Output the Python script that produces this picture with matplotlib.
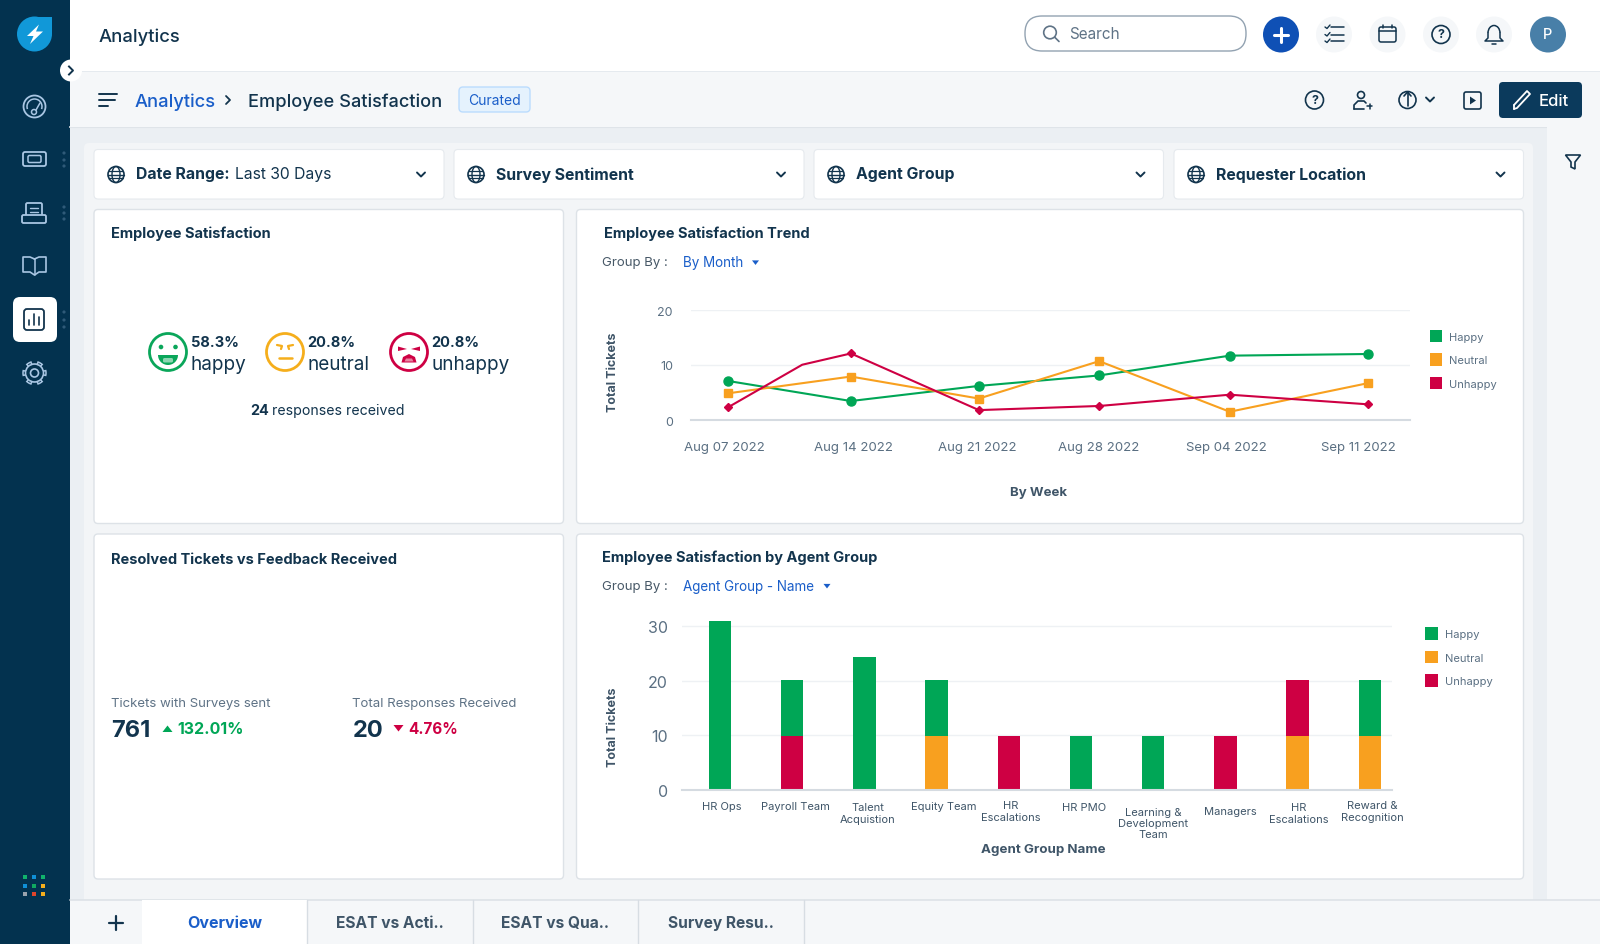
import matplotlib
matplotlib.use('Agg')
import matplotlib.pyplot as plt
from matplotlib.patches import Circle, FancyBboxPatch, Rectangle, Polygon, Wedge, Arc, Patch
from matplotlib.lines import Line2D

W, H = 1600, 945
plt.rcParams['font.family'] = ['Inter', 'DejaVu Sans']

# trend chart
week_labels = ['Aug 07 2022', 'Aug 14 2022', 'Aug 21 2022', 'Aug 28 2022', 'Sep 04 2022', 'Sep 11 2022']
week_x = [0, 0.96, 1.96, 2.9, 3.92, 5]
week_tick_x = [-0.03, 0.978, 1.948, 2.895, 3.895, 4.925]
trend_happy = [7.1, 3.45, 6.2, 8.1, 11.7, 12.0]
trend_neutral = [4.85, 7.9, 3.9, 10.7, 1.5, 6.7]
unhappy_x = [0, 0.58, 0.96, 1.96, 2.9, 3.92, 5]
trend_unhappy = [2.3, 10.05, 12.1, 1.8, 2.55, 4.6, 2.85]

# stacked bars
groups = ['HR Ops', 'Payroll Team', 'Talent\nAcquistion', 'Equity Team', 'HR\nEscalations', 'HR PMO',
          'Learning &\nDevelopment\nTeam', 'Managers', 'HR\nEscalations', 'Reward &\nRecognition']
bar_happy = [31, 10.4, 24.3, 10.4, 0, 9.8, 9.8, 0, 0, 10.4]
bar_neutral = [0, 0, 0, 9.8, 0, 0, 0, 0, 9.8, 9.8]
bar_unhappy = [0, 9.8, 0, 0, 9.8, 0, 0, 9.8, 10.4, 0]
group_label_x = [0.03, 1.05, 2.05, 3.1, 4.03, 5.04, 6.0, 7.07, 8.01, 9.03]
group_label_y = [806, 806, 813, 806, 811, 807, 823, 811, 813, 811]

# score tiles
sentiment = ['happy', 'neutral', 'unhappy']
sentiment_pct = ['58.3%', '20.8%', '20.8%']

GREEN = '#00a656'
ORANGE = '#f8a01f'
RED = '#ce0043'
DARK = '#12344d'
NAVY = '#03324f'
BLUE = '#1a5ec9'
GRAY = '#5f7386'
ICON = '#a9c6e3'

fig = plt.figure(figsize=(W / 100, H / 100), dpi=100)
ui = fig.add_axes([0, 0, 1, 1])
ui.set_xlim(0, W)
# everything sits one pixel lower than the measured values
ui.set_ylim(H - 1, -1)
ui.axis('off')


def rect(x0, y0, x1, y1, color, ec='none', lw=0, z=1):
    ui.add_patch(Rectangle((x0, y0), x1 - x0, y1 - y0, fc=color, ec=ec, lw=lw, zorder=z))


def rrect(x0, y0, x1, y1, color, r=4, ec='none', lw=0, z=2):
    ui.add_patch(FancyBboxPatch((x0 + r, y0 + r), x1 - x0 - 2 * r, y1 - y0 - 2 * r,
                                boxstyle=f'round,pad={r},rounding_size={r}',
                                fc=color, ec=ec, lw=lw, zorder=z))


def circ(x, y, r, fc='none', ec='none', lw=1.0, z=3):
    ui.add_patch(Circle((x, y), r, fc=fc, ec=ec, lw=lw, zorder=z))


def line(xs, ys, color=DARK, lw=1.3, z=4):
    ui.add_line(Line2D(xs, ys, color=color, lw=lw, zorder=z, solid_capstyle='round', solid_joinstyle='round'))


def label(x, y, s, size=10, color=DARK, weight='normal', ha='left', **kw):
    return ui.text(x, y, s, fontsize=size, color=color, fontweight=weight, ha=ha, va='center', zorder=6, **kw)


def chevron_down(x, y, s=4, color=DARK, lw=1.4):
    line([x - s, x, x + s], [y - s * 0.5, y + s * 0.5, y - s * 0.5], color, lw)


def tri(x, y, s, color, up=True):
    d = -s if up else s
    ui.add_patch(Polygon([(x - s, y - d * 0.6), (x + s, y - d * 0.6), (x, y + d * 0.7)], fc=color, ec='none', zorder=5))


def globe(x, y, r=8):
    circ(x, y, r, ec=DARK, lw=1.2, z=4)
    ui.add_patch(Arc((x, y), r, 2 * r, ec=DARK, lw=1.0, zorder=4))
    line([x - r, x + r], [y, y], DARK, 1.0)
    line([x - r * 0.85, x + r * 0.85], [y - r * 0.45, y - r * 0.45], DARK, 0.9)
    line([x - r * 0.85, x + r * 0.85], [y + r * 0.45, y + r * 0.45], DARK, 0.9)


def question(x, y, r=9, color=DARK):
    circ(x, y, r, ec=color, lw=1.2, z=4)
    label(x, y, '?', 9, color, 'bold', ha='center')


# backgrounds
rect(0, -2, W, H + 2, '#ebeff3', z=0)
rect(0, -2, 70, H + 2, NAVY)
rect(70, -2, W, 71, 'white')
line([70, W], [71.5, 71.5], '#cfd7df', 1.0, z=2)
rect(70, 72, W, 126.5, '#f5f7f9', z=2)
line([70, W], [127, 127], '#dfe4e9', 1.5, z=1)
rect(1547, 127, W, 900, '#f5f7f9', z=2)
rrect(84, 143, 1533, 915, '#f3f5f7', r=5, z=1)

# sidebar
ui.add_patch(Circle((34.5, 34), 17.5, fc='#1198d8', ec='none', zorder=3))
rect(35, 16.5, 52, 34, '#1198d8', z=3)
ui.add_patch(Polygon([(39, 24.5), (27, 36), (33.5, 36), (30, 44), (43, 31.5), (36, 31.5)], fc='white', ec='none', zorder=4))
circ(71, 70.5, 11, fc='white', z=7)
ui.add_line(Line2D([69, 73, 69], [66.5, 70.5, 74.5], color=DARK, lw=1.4, zorder=8))

circ(34.5, 106.5, 11, ec=ICON, lw=1.3)
ui.add_patch(Arc((34.5, 106.5), 15, 15, theta1=160, theta2=20, ec=ICON, lw=1.1, zorder=4))
circ(34, 112, 2.5, ec=ICON, lw=1.1)
line([36, 40], [110, 103], ICON, 1.1)

rrect(23, 152, 46, 166, 'none', r=2, ec=ICON, lw=1.3, z=4)
rrect(28, 155.5, 41, 162.5, 'none', r=1.5, ec=ICON, lw=1.1, z=4)

rrect(26, 203, 42, 219, 'none', r=1.5, ec=ICON, lw=1.3, z=4)
rrect(22, 215, 46, 223, NAVY, r=1.5, ec=ICON, lw=1.3, z=5)
line([30, 38], [208, 208], ICON, 1.0)
line([30, 38], [212, 212], ICON, 1.0)

# book: two pages meeting at the spine
line([34.5, 30, 23, 23, 30, 34.5, 39, 46, 46, 39, 34.5], [259, 257, 257, 272, 272, 275, 272, 272, 257, 257, 259], ICON, 1.2)
line([34.5, 34.5], [259, 275], ICON, 1.1)

rrect(13, 297, 57, 342, 'white', r=7, z=3)
rrect(24, 309, 44, 330, 'none', r=3, ec=DARK, lw=1.3, z=4)
line([29, 29], [320, 325], DARK, 1.2)
line([34, 34], [314, 325], DARK, 1.2)
line([39, 39], [317, 325], DARK, 1.2)

for a in range(0, 360, 60):
    ui.add_patch(Wedge((34.5, 373), 11.5, a - 12, a + 12, fc=NAVY, ec=ICON, lw=1.1, zorder=4))
circ(34.5, 373, 9, fc=NAVY, ec=ICON, lw=1.2, z=5)
circ(34.5, 373, 4, ec=ICON, lw=1.2, z=6)

for dots_y in ([153, 160, 166], [207, 213, 219], [312, 320, 327]):
    for dy in dots_y:
        circ(64, dy, 1.6, fc='#2f5a78')

apps_colors = [['#10b26c', '#0f8fd6', '#10b26c'], ['#0f8fd6', '#10a860', '#f5ae1c'], ['#9aa3ad', '#e0452c', '#f5ae1c']]
for row, ay in zip(apps_colors, [877, 886, 894]):
    for c, ax_ in zip(row, [25, 34, 43]):
        rect(ax_ - 2.3, ay - 2.3, ax_ + 2.3, ay + 2.3, c, z=3)

# top header
label(99, 36, 'Analytics', 13.3, DARK, 'medium')
rrect(1025, 16, 1246, 51, 'white', r=17, ec='#92a2b1', lw=1.0, z=3)
circ(1050, 32.5, 6.3, ec=GRAY, lw=1.2)
line([1055, 1059], [37.5, 41.5], GRAY, 1.2)
label(1069, 33.5, 'Search', 11, GRAY)
circ(1281, 34.5, 18, fc='#0f50b5')
line([1274, 1288], [34.5, 34.5], 'white', 2.2)
line([1281, 1281], [27.5, 41.5], 'white', 2.2)
for cx in [1334, 1387.5, 1441, 1494]:
    circ(cx, 34.5, 18, fc='#f5f7f9')
for ly in [27, 34.5, 41]:
    line([1331, 1344], [ly, ly], DARK, 1.1)
    line([1325, 1327, 1330], [ly, ly + 1.5, ly - 2], DARK, 1.0)
rrect(1379, 27, 1396, 42, 'none', r=2, ec=DARK, lw=1.1, z=4)
line([1379, 1396], [31, 31], DARK, 1.1)
line([1383, 1383], [25, 28], DARK, 1.1)
line([1392, 1392], [25, 28], DARK, 1.1)
question(1441, 34.5)
ui.add_patch(Arc((1494, 33), 12, 15, theta1=180, theta2=360, ec=DARK, lw=1.1, zorder=4))
line([1488, 1488, 1485, 1503, 1500, 1500], [33, 38, 41, 41, 38, 33], DARK, 1.1)
line([1492, 1496], [44, 44], DARK, 1.1)
circ(1548, 34.5, 18, fc='#487fa8')
label(1548, 34.5, 'P', 10.5, 'white', 'medium', ha='center')

# breadcrumb row
for hy, hx in zip([94, 100, 106], [117, 115, 108]):
    line([99, hx], [hy, hy], DARK, 1.4)
label(135, 101, 'Analytics', 13.2, BLUE, 'medium')
line([226, 230, 226], [96, 100, 104], DARK, 1.3)
label(248, 101, 'Employee Satisfaction', 13.1, DARK, 'medium')
rrect(459, 87, 530, 112, '#e5f2fd', r=4, ec='#bbdcfe', lw=1.0, z=3)
label(494.5, 100, 'Curated', 10, BLUE, ha='center')

question(1314.5, 100)
circ(1361, 95, 3.5, ec=DARK, lw=1.2)
line([1354, 1354, 1358, 1364, 1366], [109, 105, 101, 101, 103], DARK, 1.2)
line([1354, 1364], [109, 109], DARK, 1.2)
line([1367, 1372], [106, 106], DARK, 1.1)
line([1369.5, 1369.5], [103.5, 108.5], DARK, 1.1)
circ(1407.5, 100, 8.5, ec=DARK, lw=1.2)
line([1407.5, 1407.5], [92, 106], DARK, 1.2)
line([1404, 1407.5, 1411], [96, 92, 96], DARK, 1.2)
chevron_down(1430, 99.5)
rrect(1464, 92, 1481, 109, 'none', r=2, ec=DARK, lw=1.2, z=4)
ui.add_patch(Polygon([(1470, 96.5), (1470, 104.5), (1476, 100.5)], fc=DARK, ec='none', zorder=5))
rrect(1499, 82, 1582, 118, '#0b3a5c', r=4)
line([1514, 1517, 1530, 1527, 1514], [109, 108, 94, 91, 105], 'white', 1.3)
line([1514, 1514], [105, 109], 'white', 1.3)
label(1539, 101, 'Edit', 12, 'white', 'medium')
ui.add_patch(Polygon([(1565.5, 155), (1580.5, 155), (1575, 162), (1575, 169), (1571, 167), (1571, 162)],
                     fc='none', ec=DARK, lw=1.2, zorder=4))

# filters
filter_x = [(94, 444), (454, 804), (814, 1163.5), (1174, 1523.5)]
filter_txt = ['Date Range:', 'Survey Sentiment', 'Agent Group', 'Requester Location']
for (x0, x1), t in zip(filter_x, filter_txt):
    rrect(x0, 149.5, x1, 199, 'white', r=4, ec='#e6eaee', lw=0.8, z=2)
    globe(x0 + 22, 174.5)
    label(x0 + 42, 174, t, 11.4, DARK, 'bold')
    chevron_down(x1 - 23, 174.5)
label(235, 174, 'Last 30 Days', 11.3, DARK)

# cards
for x0, y0, x1, y1 in [(94, 209.5, 563.5, 523.5), (576.5, 209.5, 1523.5, 523.5),
                       (94, 534, 563.5, 879), (576.5, 534, 1523.5, 879)]:
    rrect(x0, y0, x1, y1, 'white', r=4, ec='#dde2e7', lw=1.0, z=2)

label(111, 233, 'Employee Satisfaction', 10.5, DARK, 'bold')
label(111, 559, 'Resolved Tickets vs Feedback Received', 10.5, DARK, 'bold')
label(603.5, 232.5, 'Employee Satisfaction Trend', 10.5, DARK, 'bold')
label(602, 557, 'Employee Satisfaction by Agent Group', 10.5, DARK, 'bold')

label(602, 262, 'Group By :', 9.5, '#475867')
label(683, 262, 'By Month', 9.7, BLUE)
tri(755.5, 262.5, 3.5, BLUE, up=False)
label(602, 586, 'Group By :', 9.5, '#475867')
label(683, 586, 'Agent Group - Name', 9.7, BLUE)
tri(827, 586, 3.5, BLUE, up=False)

# emoji and scores
face_x = [168, 285, 409]
face_col = ['#0aa65a', '#f5ae1c', RED]
text_x = [191, 307.5, 431.5]
for fx, col, tx, name, pct in zip(face_x, face_col, text_x, sentiment, sentiment_pct):
    circ(fx, 352, 18.5, ec=col, lw=2.0)
    label(tx, 342, pct, 10.5, DARK, 'bold')
    label(tx, 364.5, name, 13.6, DARK)
circ(161, 347, 2.3, fc=face_col[0])
circ(175.5, 347, 2.3, fc=face_col[0])
ui.add_patch(Wedge((168, 355), 10, 0, 180, fc=face_col[0], ec='none', zorder=4))
ui.add_patch(FancyBboxPatch((164.5, 359.5), 7, 1.5, boxstyle='round,pad=1.5', fc='#8dd6b2', ec='none', zorder=5))
line([277, 282, 281], [345, 346, 349], face_col[1], 1.6)
line([293, 288, 289], [345, 346, 349], face_col[1], 1.6)
line([279, 292], [358, 358], face_col[1], 1.8)
ui.add_patch(Polygon([(398, 346.5), (407, 349), (398, 351)], fc=RED, ec='none', zorder=4))
ui.add_patch(Polygon([(420, 346.5), (411, 349), (420, 351)], fc=RED, ec='none', zorder=4))
ui.add_patch(Polygon([(401.5, 362.5), (403, 357), (409, 354), (415, 357), (416.5, 362.5)], fc=RED, ec='none', zorder=4))
ui.add_patch(Polygon([(404.5, 361.5), (406, 358.5), (412, 358.5), (413.5, 361.5)], fc='#e8819f', ec='none', zorder=5))

label(250.5, 410, '24', 10.3, DARK, 'bold')
label(272, 410, 'responses received', 10.2, DARK)

# resolved tickets
label(111, 703, 'Tickets with Surveys sent', 9.5, GRAY)
label(352.5, 703, 'Total Responses Received', 9.5, GRAY)
label(111, 730, '761', 17, DARK, 'bold')
tri(167.5, 729, 5, GREEN, up=True)
label(177, 729, '132.01%', 11.5, GREEN, 'bold')
label(353, 730, '20', 17, DARK, 'bold')
tri(398.5, 728, 5, RED, up=False)
label(408, 729, '4.76%', 11, RED, 'bold')

# bottom tabs
rect(70, 900, W, H + 2, '#f5f7f9', z=3)
line([70, W], [900, 900], '#dde2e7', 1.2, z=4)
rect(142, 900, 307, H + 2, 'white', z=4)
line([115.5, 115.5], [916, 930], DARK, 1.6, z=5)
line([108.5, 122.5], [923, 923], DARK, 1.6, z=5)
label(224.5, 923, 'Overview', 11.5, BLUE, 'bold', ha='center')
for tx, t in zip([390, 555, 721], ['ESAT vs Acti..', 'ESAT vs Qua..', 'Survey Resu..']):
    label(tx, 923, t, 11.2, '#3f5568', 'bold', ha='center')
for lx in [307, 472.5, 638, 803.5]:
    line([lx, lx], [900, H + 2], '#d7dde3', 1.0, z=5)


def px_axes(x0, y0, x1, y1):
    # +1 keeps the charts aligned with the ui layer
    a = fig.add_axes([x0 / W, 1 - (y1 + 1) / H, (x1 - x0) / W, (y1 - y0) / H], facecolor='none', zorder=5)
    for s in ['top', 'right', 'left']:
        a.spines[s].set_visible(False)
    a.spines['bottom'].set_color('#d5dbe1')
    a.spines['bottom'].set_linewidth(1.5)
    a.grid(axis='y', color='#eef1f4', lw=1.0)
    a.set_axisbelow(True)
    return a


legend_handles = [Patch(fc=GREEN, label='Happy'), Patch(fc=ORANGE, label='Neutral'), Patch(fc=RED, label='Unhappy')]
legend_style = dict(frameon=False, loc='upper left', borderaxespad=0, borderpad=0, handlelength=1.1, handleheight=1.35,
                    handletextpad=0.65, labelspacing=1.0, fontsize=8, labelcolor='#5a6f82')

# trend axes
ax1 = px_axes(691, 310, 1410, 420)
ax1.plot(week_x, trend_happy, color=GREEN, lw=1.5, marker='o', ms=6.5, clip_on=False)
ax1.plot(week_x, trend_neutral, color=ORANGE, lw=1.5, marker='s', ms=5.5, clip_on=False)
ax1.plot(unhappy_x, trend_unhappy, color=RED, lw=1.5, marker='D', ms=4,
         markevery=[0, 2, 3, 4, 5, 6], clip_on=False)
ax1.set_xlim(-0.289, 5.328)
ax1.set_ylim(0, 20)
ax1.set_yticks([0, 10, 20])
ax1.set_xticks(week_tick_x, week_labels)
ax1.tick_params(axis='x', length=0, pad=15.4, labelsize=9.5, labelcolor='#5a6f82')
ax1.tick_params(axis='y', length=0, pad=13, labelsize=9, labelcolor='#5a6f82')
ax1.set_ylabel('Total Tickets', fontsize=9, fontweight='bold', color='#3f5568', labelpad=0)
ax1.yaxis.set_label_coords(-0.1, 0.44)
ax1.set_xlabel('By Week', fontsize=9.5, fontweight='bold', color='#3f5568')
ax1.xaxis.set_label_coords(0.484, -0.604)
ax1.legend(handles=legend_handles, bbox_to_anchor=(1.0275, 0.82), **legend_style)

# bar axes
ax2 = px_axes(682, 617.8, 1392, 790)
x_pos = list(range(len(groups)))
neutral_top = [n + u for n, u in zip(bar_neutral, bar_unhappy)]
ax2.bar(x_pos, bar_neutral, width=0.31, color=ORANGE)
ax2.bar(x_pos, bar_unhappy, width=0.31, bottom=bar_neutral, color=RED)
ax2.bar(x_pos, bar_happy, width=0.31, bottom=neutral_top, color=GREEN)
ax2.set_xlim(-0.526, 9.307)
ax2.set_ylim(0, 31.5)
ax2.set_yticks([0, 10, 20, 30])
ax2.set_xticks(group_label_x, groups)
ax2.tick_params(axis='x', length=0, labelsize=8, labelcolor='#3f5568', pad=0)
ax2.tick_params(axis='y', length=0, pad=10, labelsize=11.5, labelcolor='#5a6f82')
for tick_label, cy in zip(ax2.get_xticklabels(), group_label_y):
    tick_label.set_verticalalignment('center')
    tick_label.set_linespacing(1.15)
    tick_label.set_y((790 - cy) / 172.2)
ax2.set_ylabel('Total Tickets', fontsize=9, fontweight='bold', color='#3f5568')
ax2.yaxis.set_label_coords(-0.0887, 0.37)
ax2.set_xlabel('Agent Group Name', fontsize=9.6, fontweight='bold', color='#3f5568')
ax2.xaxis.set_label_coords(0.509, -0.306)
ax2.legend(handles=legend_handles, bbox_to_anchor=(1.047, 0.945), **legend_style)

fig.savefig('out.png', dpi=100)
